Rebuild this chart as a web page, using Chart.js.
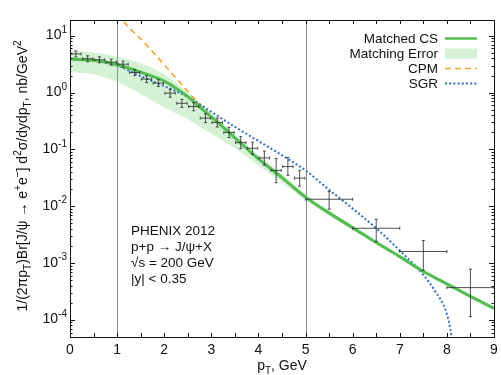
<!DOCTYPE html>
<html><head><meta charset="utf-8">
<script src="https://cdn.jsdelivr.net/npm/chart.js@4.4.1/dist/chart.umd.min.js"></script>
<style>html,body{margin:0;padding:0;background:#fff}#wrap{width:501px;height:375px}</style>
</head><body><div id="wrap"><canvas id="c" width="501" height="375"></canvas></div>
<script>
// ---------- data ----------
const pt      = [0.125,0.375,0.625,0.875,1.125,1.375,1.625,1.875,2.125,2.375,2.625,2.875,3.125,3.375,3.625,3.875,4.125,4.375,4.625,4.875,5.5,6.5,7.5,8.5];
const ptErr   = [0.11,0.11,0.11,0.11,0.11,0.11,0.11,0.11,0.11,0.11,0.11,0.11,0.11,0.11,0.11,0.11,0.11,0.11,0.11,0.11,0.5,0.5,0.5,0.5];
const cs      = [4.8,3.94,3.78,3.44,3.17,2.26,1.73,1.47,0.98,0.65,0.57,0.356,0.298,0.199,0.132,0.105,0.071,0.0427,0.050,0.0313,0.0133,0.0041,0.0016,0.00037];
const csHigh  = [5.42,4.45,4.27,3.88,3.58,2.55,1.99,1.69,1.15,0.76,0.67,0.427,0.358,0.244,0.168,0.134,0.094,0.069,0.072,0.043,0.0182,0.0059,0.0025,0.00078];
const csLow   = [4.25,3.49,3.35,3.05,2.81,2.00,1.50,1.28,0.83,0.55,0.48,0.297,0.248,0.162,0.104,0.082,0.053,0.026,0.035,0.0226,0.0089,0.0024,0.00074,0.000114];

const matchedX = [0,0.5,1,1.5,2,2.25,2.5,2.75,3,3.5,4,4.5,5,5.5,6,6.5,7,7.5,8,8.5,9];
const matchedY = [3.9,3.7,3.1,2.3,1.6,1.2,0.85,0.56,0.375,0.16,0.068,0.032,0.0145,0.0076,0.0042,0.0023,0.0013,0.00071,0.00043,0.00026,0.00016];

const bandX    = [0,0.5,1,1.5,2,2.5,2.75,3,3.5,4,4.5,5,5.5,6,7,8,9];
const bandHigh = [5.6,5.1,4.3,3.3,2.1,1.0,0.66,0.44,0.185,0.08,0.037,0.0163,0.0084,0.0046,0.0014,0.00046,0.00017];
const bandLow  = [2.3,2.1,1.55,0.95,0.55,0.34,0.25,0.19,0.105,0.052,0.026,0.0128,0.0069,0.0038,0.0012,0.0004,0.00015];

const cpmX = [1.0,1.25,1.5,1.75,2.0,2.25,2.5,2.75,3.0];
const cpmY = [24,14,8.8,5.3,3.1,1.8,1.05,0.62,0.39];

const sgrX = [0,0.5,1,1.25,1.5,2,2.5,3,3.5,4,4.5,5,5.5,6,6.5,7,7.5,7.75,8,8.1,8.15];
const sgrY = [3.9,3.7,3.0,2.45,1.95,1.3,0.84,0.46,0.25,0.141,0.079,0.0427,0.0195,0.0091,0.0041,0.00166,0.00062,0.00032,0.000126,0.00005,0.00002];

const xTickValues = [0,1,2,3,4,5,6,7,8,9];
const yExponents  = [-4,-3,-2,-1,0,1];
const refLinesX   = [1,5];
const infoLines   = ['PHENIX 2012','p+p \u2192 J/\u03C8+X','\u221As = 200 GeV','|y| < 0.35'];

// ---------- styles ----------
const FONT = '"Liberation Sans", Arial, Helvetica, sans-serif';
const GREEN = 'rgb(82,190,82)';
const BAND = 'rgba(120,210,120,0.32)';
const ORANGE = 'rgb(245,163,40)';
const BLUE = 'rgb(40,110,212)';
const Y_MIN = 5e-5, Y_MAX = 19;

const pts = (xs, ys) => xs.map((x, i) => ({x, y: ys[i]}));

function richText(ctx, segs, x, y, align, size) {
  let total = 0;
  const parts = segs.map(([t, m]) => {
    const fs = m === 'n' ? size : Math.round(size * 0.72);
    ctx.font = fs + 'px ' + FONT;
    const w = ctx.measureText(t).width;
    total += w;
    return {t, m, fs, w};
  });
  let cx = align === 'center' ? x - total / 2 : align === 'right' ? x - total : x;
  ctx.textAlign = 'left';
  ctx.textBaseline = 'alphabetic';
  for (const p of parts) {
    ctx.font = p.fs + 'px ' + FONT;
    const dy = p.m === 'sub' ? size * 0.3 : p.m === 'sup' ? -size * 0.45 : 0;
    ctx.fillText(p.t, cx, y + dy);
    cx += p.w;
  }
}

const decorPlugin = {
  id: 'decor',
  beforeDatasetsDraw(chart) {
    const {ctx, chartArea: a, scales: {x}} = chart;
    ctx.save();
    ctx.strokeStyle = '#8a8a8a';
    ctx.lineWidth = 1;
    refLinesX.forEach(v => {
      const px = Math.round(x.getPixelForValue(v)) + 0.5;
      ctx.beginPath(); ctx.moveTo(px, a.top); ctx.lineTo(px, a.bottom); ctx.stroke();
    });
    ctx.restore();
  },
  afterDatasetsDraw(chart) {
    const {ctx, chartArea: a, scales: {x, y}} = chart;
    ctx.save();
    // error bars
    ctx.strokeStyle = 'rgba(50,50,50,0.85)';
    ctx.lineWidth = 1;
    const meta = chart.getDatasetMeta(5);
    pt.forEach((v, i) => {
      const el = meta.data[i];
      const cx = el.x, cy = el.y;
      const x0 = x.getPixelForValue(v - ptErr[i]), x1 = x.getPixelForValue(v + ptErr[i]);
      const y0 = y.getPixelForValue(csHigh[i]), y1 = y.getPixelForValue(csLow[i]);
      ctx.beginPath();
      ctx.moveTo(x0, cy); ctx.lineTo(x1, cy);
      ctx.moveTo(cx, y0); ctx.lineTo(cx, y1);
      // caps
      ctx.moveTo(x0, cy - 1.5); ctx.lineTo(x0, cy + 1.5);
      ctx.moveTo(x1, cy - 1.5); ctx.lineTo(x1, cy + 1.5);
      ctx.moveTo(cx - 1.5, y0); ctx.lineTo(cx + 1.5, y0);
      ctx.moveTo(cx - 1.5, y1); ctx.lineTo(cx + 1.5, y1);
      ctx.stroke();
    });
    // frame
    ctx.strokeStyle = '#111';
    ctx.lineWidth = 1;
    ctx.strokeRect(Math.round(a.left) + 0.5, Math.round(a.top) + 0.5, Math.round(a.right - a.left), Math.round(a.bottom - a.top));
    // x ticks
    ctx.beginPath();
    for (let v = 0; v <= 9.0001; v += 0.5) {
      const px = Math.round(x.getPixelForValue(v)) + 0.5;
      ctx.moveTo(px, a.bottom); ctx.lineTo(px, a.bottom - 4);
      ctx.moveTo(px, a.top); ctx.lineTo(px, a.top + 4);
    }
    // y ticks
    for (let e = -5; e <= 1; e++) {
      for (let k = 1; k <= 9; k++) {
        const v = k * Math.pow(10, e);
        if (v < Y_MIN || v > Y_MAX) continue;
        const py = Math.round(y.getPixelForValue(v)) + 0.5;
        const len = k === 1 ? 5 : 2.5;
        ctx.moveTo(a.left, py); ctx.lineTo(a.left + len, py);
        ctx.moveTo(a.right, py); ctx.lineTo(a.right - len, py);
      }
    }
    ctx.stroke();
    // tick labels
    ctx.fillStyle = '#111';
    ctx.font = '14px ' + FONT;
    ctx.textAlign = 'center';
    ctx.textBaseline = 'alphabetic';
    xTickValues.forEach(v => {
      ctx.fillText(String(v), x.getPixelForValue(v), a.bottom + 17);
    });
    yExponents.forEach(e => {
      const py = y.getPixelForValue(Math.pow(10, e));
      richText(ctx, [['10', 'n'], [String(e), 'sup']], a.left - 3, py + 3.5, 'right', 14);
    });
    // axis titles
    richText(ctx, [['p', 'n'], ['T', 'sub'], [', GeV', 'n']], (a.left + a.right) / 2, a.bottom + 33, 'center', 14);
    ctx.save();
    ctx.translate(27, 176);
    ctx.rotate(-Math.PI / 2);
    richText(ctx, [
      ['1/(2\u03C0p', 'n'], ['T', 'sub'], [')Br[J/\u03C8 \u2192 e', 'n'], ['+', 'sup'], ['e', 'n'], ['\u2212', 'sup'],
      ['] d', 'n'], ['2', 'sup'], ['\u03C3/dydp', 'n'], ['T', 'sub'], [', nb/GeV', 'n'], ['2', 'sup']
    ], 0, 0, 'center', 14);
    ctx.restore();
    ctx.restore();
  },
  afterDraw(chart) {
    const {ctx} = chart;
    ctx.save();
    // legend
    const textRight = 438, sx0 = 445, sx1 = 477;
    const rows = [38.5, 53.5, 68.5, 83.5];
    ctx.font = '13.5px ' + FONT;
    ctx.fillStyle = '#111';
    ctx.textAlign = 'right';
    ctx.textBaseline = 'middle';
    const labels = ['Matched CS', 'Matching Error', 'CPM', 'SGR'];
    labels.forEach((t, i) => ctx.fillText(t, textRight, rows[i] + 0.5));
    ctx.lineWidth = 2.5; ctx.strokeStyle = GREEN; ctx.setLineDash([]);
    ctx.beginPath(); ctx.moveTo(sx0, rows[0]); ctx.lineTo(sx1, rows[0]); ctx.stroke();
    ctx.fillStyle = BAND;
    ctx.fillRect(sx0, rows[1] - 5, sx1 - sx0, 10);
    ctx.lineWidth = 1.6; ctx.strokeStyle = ORANGE; ctx.setLineDash([6, 4]);
    ctx.beginPath(); ctx.moveTo(sx0, rows[2]); ctx.lineTo(sx1, rows[2]); ctx.stroke();
    ctx.lineWidth = 2; ctx.strokeStyle = BLUE; ctx.setLineDash([2, 2.2]);
    ctx.beginPath(); ctx.moveTo(sx0, rows[3]); ctx.lineTo(sx1, rows[3]); ctx.stroke();
    ctx.setLineDash([]);
    // info text
    ctx.fillStyle = '#111';
    ctx.font = '13.5px ' + FONT;
    ctx.textAlign = 'left';
    ctx.textBaseline = 'alphabetic';
    infoLines.forEach((t, i) => ctx.fillText(t, 131, 235 + 16 * i));
    ctx.restore();
  }
};

new Chart(document.getElementById('c'), {
  type: 'line',
  data: {
    datasets: [
      {label: 'Matched CS', data: pts(matchedX, matchedY), borderColor: GREEN, borderWidth: 3, pointRadius: 0, fill: false, cubicInterpolationMode: 'monotone'},
      {label: 'SGR', data: pts(sgrX, sgrY), borderColor: BLUE, borderWidth: 2, borderDash: [2, 2.2], pointRadius: 0, fill: false, cubicInterpolationMode: 'monotone'},
      {label: 'CPM', data: pts(cpmX, cpmY), borderColor: ORANGE, borderWidth: 1.6, borderDash: [6, 4], pointRadius: 0, fill: false, cubicInterpolationMode: 'monotone'},
      {label: 'Matching Error', data: pts(bandX, bandHigh), borderColor: 'rgba(0,0,0,0)', borderWidth: 0, backgroundColor: BAND, pointRadius: 0, fill: '+1', cubicInterpolationMode: 'monotone'},
      {label: 'Matching Error low', data: pts(bandX, bandLow), borderColor: 'rgba(0,0,0,0)', borderWidth: 0, pointRadius: 0, fill: false, cubicInterpolationMode: 'monotone'},
      {label: 'PHENIX 2012', data: pts(pt, cs), showLine: false, pointRadius: 0, borderWidth: 0}
    ]
  },
  options: {
    responsive: false,
    animation: false,
    events: [],
    layout: {padding: {left: 70, top: 20, right: 7, bottom: 38}},
    plugins: {legend: {display: false}, tooltip: {enabled: false}},
    scales: {
      x: {type: 'linear', min: 0, max: 9, grid: {display: false}, border: {display: false}, ticks: {display: false}, afterFit(s) { s.height = 0; }},
      y: {type: 'logarithmic', min: Y_MIN, max: Y_MAX, grid: {display: false}, border: {display: false}, ticks: {display: false}, afterFit(s) { s.width = 0; }}
    }
  },
  plugins: [decorPlugin]
});
</script></body></html>
